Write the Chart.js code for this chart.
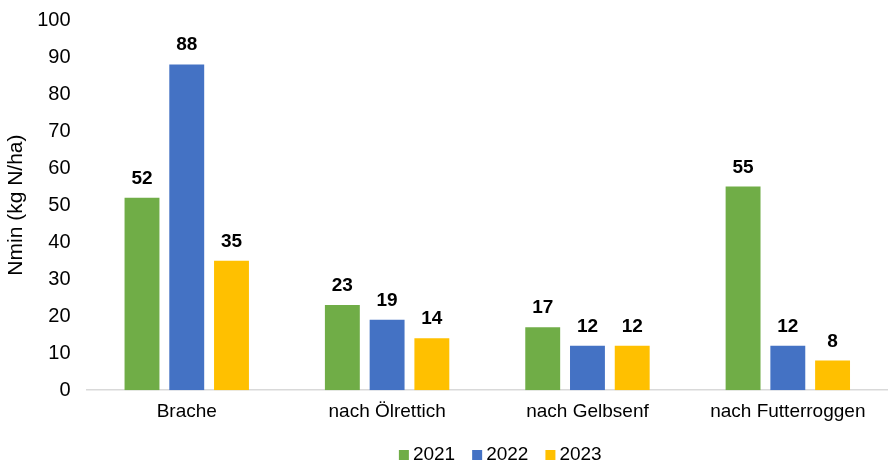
<!DOCTYPE html>
<html>
<head>
<meta charset="utf-8">
<script src="https://cdn.jsdelivr.net/npm/chart.js@4/dist/chart.umd.min.js"></script>
<style>
  html, body { margin: 0; padding: 0; background: #fff; }
  #wrap { width: 888px; height: 462px; }
</style>
</head>
<body>
<div id="wrap"><canvas id="nminChart"></canvas></div>
<script>
const categories = ['Brache', 'nach Ölrettich', 'nach Gelbsenf', 'nach Futterroggen'];
const years = ['2021', '2022', '2023'];
const values2021 = [52, 23, 17, 55];
const values2022 = [88, 19, 12, 12];
const values2023 = [35, 14, 12, 8];
const colors = ['#70AD47', '#4472C4', '#FFC000'];

const FONT = "'Liberation Sans', Arial, sans-serif";

// Bold value above each bar
const barValues = {
    id: 'barValues',
    afterDatasetsDraw(chart) {
        const ctx = chart.ctx;
        ctx.save();
        ctx.font = 'bold 19px ' + FONT;
        ctx.fillStyle = '#000';
        ctx.textAlign = 'center';
        ctx.textBaseline = 'alphabetic';
        chart.data.datasets.forEach((ds, i) => {
            chart.getDatasetMeta(i).data.forEach((bar, j) => {
                ctx.fillText(ds.data[j], bar.x, bar.y - 14);
            });
        });
        ctx.restore();
    }
};

// Compact legend at the bottom: small square, short gap, year label
const bottomLegend = {
    id: 'bottomLegend',
    afterDraw(chart) {
        const ctx = chart.ctx;
        const box = 10, gap = 4, itemGap = 17;
        ctx.save();
        ctx.font = '19px ' + FONT;
        ctx.textBaseline = 'alphabetic';
        const items = chart.data.datasets.map(ds => ({
            text: ds.label,
            color: ds.backgroundColor,
            w: box + gap + ctx.measureText(ds.label).width
        }));
        const total = items.reduce((s, it) => s + it.w, 0) + itemGap * (items.length - 1);
        const area = chart.chartArea;
        let x = (area.left + area.right) / 2 + 13 - total / 2;
        const base = chart.height - 2;
        items.forEach(it => {
            ctx.fillStyle = it.color;
            ctx.fillRect(x, base - box, box, box);
            ctx.fillStyle = '#000';
            ctx.fillText(it.text, x + box + gap, base);
            x += it.w + itemGap;
        });
        ctx.restore();
    }
};

const seriesValues = [values2021, values2022, values2023];

new Chart(document.getElementById('nminChart'), {
    type: 'bar',
    data: {
        labels: categories,
        datasets: years.map((y, i) => ({
            label: y,
            data: seriesValues[i],
            backgroundColor: colors[i],
            categoryPercentage: 0.67,
            barPercentage: 0.78
        }))
    },
    options: {
        responsive: true,
        maintainAspectRatio: false,
        animation: false,
        layout: { padding: { top: 3, right: -8, left: 0, bottom: 37 } },
        scales: {
            y: {
                min: 0,
                max: 100,
                ticks: { stepSize: 10, color: '#000', font: { family: FONT, size: 20 }, padding: 8 },
                grid: { display: false },
                border: { display: false },
                title: { display: true, text: 'Nmin (kg N/ha)', color: '#000', font: { family: FONT, size: 21 }, padding: { top: 4, bottom: 0 } }
            },
            x: {
                ticks: { color: '#000', font: { family: FONT, size: 19 }, padding: 2 },
                grid: { display: false },
                border: { color: '#D9D9D9', width: 1.5 }
            }
        },
        plugins: {
            legend: { display: false },
            tooltip: { enabled: false }
        }
    },
    plugins: [barValues, bottomLegend]
});
</script>
</body>
</html>
